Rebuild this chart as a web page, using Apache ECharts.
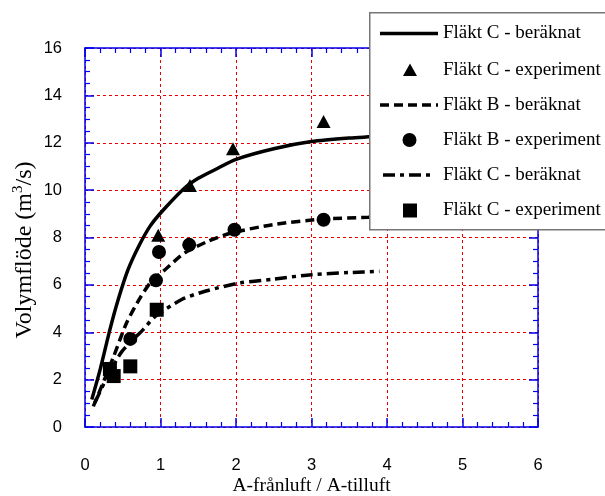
<!DOCTYPE html>
<html><head><meta charset="utf-8">
<script src="https://cdn.jsdelivr.net/npm/echarts@6/dist/echarts.min.js"></script>
<style>html,body{margin:0;padding:0;background:#fff}#c{width:605px;height:496px}</style>
</head><body><div id="c"></div>
<script>
// Data
const xTicks = [0, 1, 2, 3, 4, 5, 6];
const yTicks = [0, 2, 4, 6, 8, 10, 12, 14, 16];

const fanC_calc_x = [0.09, 0.2, 0.33, 0.44, 0.57, 0.71, 0.86, 1.04, 1.32, 1.5, 1.72, 2.0, 2.5, 3.0, 3.5, 4.0];
const fanC_calc_y = [1.16, 2.42, 4.11, 5.38, 6.64, 7.62, 8.47, 9.17, 10.09, 10.5, 10.86, 11.3, 11.75, 12.05, 12.2, 12.3];

const fanC_exp_x = [0.97, 1.39, 1.96, 3.16];
const fanC_exp_y = [8.1, 10.2, 11.75, 12.9];

const fanB_calc_x = [0.11, 0.25, 0.38, 0.55, 0.73, 0.88, 1.06, 1.32, 1.63, 1.94, 2.5, 3.15, 3.75, 4.0];
const fanB_calc_y = [0.87, 1.95, 2.98, 4.39, 5.45, 6.15, 6.64, 7.35, 7.84, 8.19, 8.55, 8.78, 8.85, 8.9];

const fanB_exp_x = [0.6, 0.94, 0.98, 1.38, 1.98, 3.16];
const fanB_exp_y = [3.72, 6.19, 7.39, 7.69, 8.33, 8.75];

const fanC2_calc_x = [0.13, 0.3, 0.49, 0.77, 0.93, 1.28, 1.59, 2.05, 2.49, 3.0, 3.5, 3.9];
const fanC2_calc_y = [1.02, 2.15, 3.19, 4.11, 4.67, 5.38, 5.73, 6.08, 6.24, 6.43, 6.52, 6.57];

const fanC2_exp_x = [0.33, 0.38, 0.6, 0.95];
const fanC2_exp_y = [2.45, 2.15, 2.56, 4.95];

const names = ['Fläkt C - beräknat', 'Fläkt C - experiment', 'Fläkt B - beräknat', 'Fläkt B - experiment', 'Fläkt C - beräknat', 'Fläkt C - experiment'];

const zip = (a, b) => a.map((v, i) => [v, b[i]]);

const chart = echarts.init(document.getElementById('c'));
const blue = '#0000ee';
const sans = 'Arial, "Liberation Sans", sans-serif';
const serif = '"Liberation Serif", "Times New Roman", serif';
const gridLine = {show: true, lineStyle: {color: '#ee0000', type: [3, 3], width: 1}};

function axisBase(extra) {
  return Object.assign({
    type: 'value',
    axisLine: {show: true, onZero: false, lineStyle: {color: blue, width: 1.5}},
    axisTick: {show: true, inside: true, length: 9, lineStyle: {color: blue, width: 1.5}},
    minorTick: {show: true, length: 5, lineStyle: {color: blue, width: 1.2}},
  }, extra);
}

// Legend (drawn as graphic, since two series share the same name)
const legX = 369, legY = 12, rowY = [33.5, 70, 105, 140, 175, 210.5];
const legendGraphics = [
  {type: 'rect', left: legX, top: legY, shape: {width: 250, height: 217},
   style: {fill: '#fff', stroke: '#777', lineWidth: 1.5}, z: 100}
];
const iconStyles = [
  {kind: 'line', dash: null, x1: 380, x2: 438},
  {kind: 'triangle'},
  {kind: 'line', dash: [9, 5], x1: 380, x2: 438},
  {kind: 'circle'},
  {kind: 'line', dash: [12, 5, 4, 5], x1: 383, x2: 433},
  {kind: 'square'}
];
iconStyles.forEach((ic, i) => {
  const y = rowY[i];
  if (ic.kind === 'line') {
    legendGraphics.push({type: 'line', shape: {x1: ic.x1, y1: y, x2: ic.x2, y2: y},
      style: {stroke: '#000', lineWidth: 3.5, lineDash: ic.dash || null}, z: 101});
  } else if (ic.kind === 'triangle') {
    legendGraphics.push({type: 'polygon', shape: {points: [[410, y - 6.5], [403, y + 6], [417, y + 6]]},
      style: {fill: '#000'}, z: 101});
  } else if (ic.kind === 'circle') {
    legendGraphics.push({type: 'circle', shape: {cx: 409.5, cy: y, r: 7}, style: {fill: '#000'}, z: 101});
  } else {
    legendGraphics.push({type: 'rect', shape: {x: 403, y: y - 7, width: 14, height: 14}, style: {fill: '#000'}, z: 101});
  }
  legendGraphics.push({type: 'text', x: 443, y: y, style: {text: names[i], fill: '#000',
    font: '19px ' + serif, verticalAlign: 'middle'}, z: 101});
});

// Y axis title
legendGraphics.push({type: 'text', x: 25, y: 250, rotation: Math.PI / 2,
  style: {text: 'Volymflöde (m{sup|3}/s)', fill: '#000', font: '24px ' + serif,
    align: 'center', verticalAlign: 'middle',
    rich: {sup: {fontFamily: '"Liberation Serif", serif', fontSize: 15, verticalAlign: 'top', padding: [0, 0, 14, 0], fill: '#000'}}}, z: 50});

const option = {
  animation: false,
  backgroundColor: '#fff',
  grid: {left: 85, right: 67, top: 48, bottom: 69, containLabel: false, outerBoundsMode: 'none'},
  xAxis: [
    axisBase({min: 0, max: 6, interval: 1, position: 'bottom',
      minorTick: {show: true, splitNumber: 5, length: 5, lineStyle: {color: blue, width: 1.2}},
      splitLine: gridLine,
      axisLabel: {color: '#000', fontFamily: sans, fontSize: 16.5, margin: 30},
      name: 'A-frånluft / A-tilluft', nameLocation: 'middle', nameGap: 49, nameMoveOverlap: false,
      nameTextStyle: {color: '#000', fontFamily: serif, fontSize: 19.5}}),
    axisBase({min: 0, max: 6, interval: 1, position: 'top',
      minorTick: {show: true, splitNumber: 5, length: 5, lineStyle: {color: blue, width: 1.2}},
      splitLine: {show: false}, axisLabel: {show: false}})
  ],
  yAxis: [
    axisBase({min: 0, max: 16, interval: 2, position: 'left',
      minorTick: {show: true, splitNumber: 4, length: 5, lineStyle: {color: blue, width: 1.2}},
      splitLine: gridLine,
      axisLabel: {color: '#000', fontFamily: sans, fontSize: 16.5, margin: 23}}),
    axisBase({min: 0, max: 16, interval: 2, position: 'right',
      minorTick: {show: true, splitNumber: 4, length: 5, lineStyle: {color: blue, width: 1.2}},
      splitLine: {show: false}, axisLabel: {show: false}})
  ],
  graphic: legendGraphics,
  series: [
    {name: names[0], type: 'line', data: zip(fanC_calc_x, fanC_calc_y), smooth: 0.25, symbol: 'none',
     lineStyle: {color: '#000', width: 3.5, type: 'solid'}, itemStyle: {color: '#000'}, z: 3},
    {name: names[1], type: 'scatter', data: zip(fanC_exp_x, fanC_exp_y), symbol: 'triangle', symbolSize: [14, 13],
     itemStyle: {color: '#000', opacity: 1}, z: 4},
    {name: names[2], type: 'line', data: zip(fanB_calc_x, fanB_calc_y), smooth: 0.25, symbol: 'none',
     lineStyle: {color: '#000', width: 3.5, type: [9, 5]}, itemStyle: {color: '#000'}, z: 3},
    {name: names[3], type: 'scatter', data: zip(fanB_exp_x, fanB_exp_y), symbol: 'circle', symbolSize: 14,
     itemStyle: {color: '#000', opacity: 1}, z: 4},
    {name: names[4], type: 'line', data: zip(fanC2_calc_x, fanC2_calc_y), smooth: 0.25, symbol: 'none',
     lineStyle: {color: '#000', width: 3.5, type: [12, 5, 4, 5]}, itemStyle: {color: '#000'}, z: 3},
    {name: names[5], type: 'scatter', data: zip(fanC2_exp_x, fanC2_exp_y), symbol: 'rect', symbolSize: 14,
     itemStyle: {color: '#000', opacity: 1}, z: 4}
  ]
};
chart.setOption(option);
</script>
</body></html>
